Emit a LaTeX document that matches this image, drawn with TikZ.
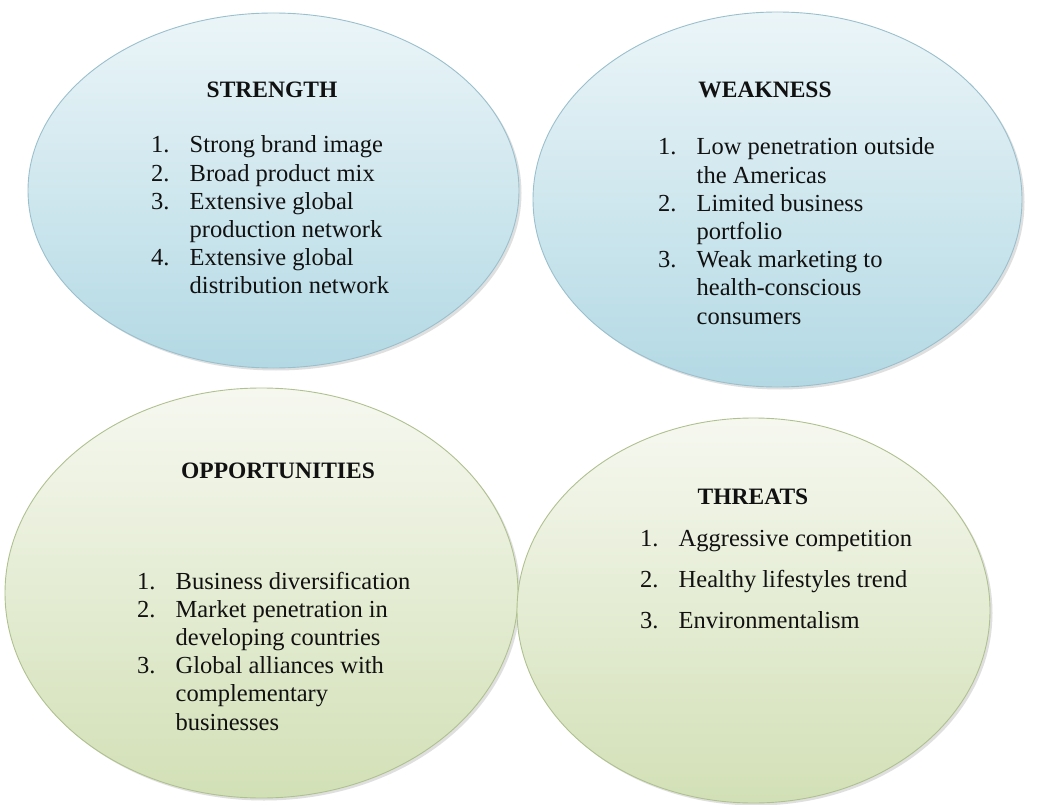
\documentclass[tikz,border=0pt]{standalone}
\usepackage{fontspec}
\setmainfont{Liberation Serif}
\usetikzlibrary{shapes.geometric,shadows}

\definecolor{bluetop}{HTML}{EBF5F8}
\definecolor{bluebot}{HTML}{B3D9E4}
\definecolor{blueedge}{HTML}{9BC0CD}
\definecolor{greentop}{HTML}{F6F8F0}
\definecolor{greenbot}{HTML}{D2E0B6}
\definecolor{greenedge}{HTML}{B0C190}
\definecolor{inktext}{HTML}{111111}

\newcommand{\swotnum}[1]{\makebox[38.5pt][l]{#1}}

\tikzset{
  quadrant/.style={ellipse, inner sep=0pt, line width=0.9pt,
    drop shadow={opacity=0.25, shadow xshift=2.5pt, shadow yshift=-2.5pt}},
  bluequad/.style={quadrant, draw=blueedge, top color=bluetop, bottom color=bluebot},
  greenquad/.style={quadrant, draw=greenedge, top color=greentop, bottom color=greenbot},
  heading/.style={anchor=base, inner sep=0pt, text=inktext,
    font=\fontsize{23.5}{28}\selectfont\bfseries},
  itemlist/.style={anchor=base west, inner sep=0pt, text=inktext,
    font=\fontsize{24.5}{28.2}\selectfont}
}

\begin{document}
\begin{tikzpicture}[x=1pt,y=-1pt]
  \useasboundingbox[fill=white] (0,0) rectangle (1037,805);

  % the four quadrants
  \node[bluequad, minimum width=491pt, minimum height=355pt] (strength) at (273.5,190.5) {};
  \node[bluequad, minimum width=489pt, minimum height=375pt] (weakness) at (777.5,199.5) {};
  \node[greenquad, minimum width=513pt, minimum height=410pt] (opportunities) at (261.5,593) {};
  \node[greenquad, minimum width=473pt, minimum height=385pt] (threats) at (753.5,610.5) {};

  % strength
  \node[heading] (strengthTitle) at (272,98) {STRENGTH};
  \node[itemlist] (strengthList) at (151,153) {\begin{tabular}[t]{@{}l@{}}
    \swotnum{1.}Strong brand image\\
    \swotnum{2.}Broad product mix\\
    \swotnum{3.}Extensive global\\
    \swotnum{}production network\\
    \swotnum{4.}Extensive global\\
    \swotnum{}distribution network
  \end{tabular}};

  % weakness
  \node[heading] (weaknessTitle) at (765,98) {WEAKNESS};
  \node[itemlist] (weaknessList) at (658,155) {\begin{tabular}[t]{@{}l@{}}
    \swotnum{1.}Low penetration outside\\
    \swotnum{}the Americas\\
    \swotnum{2.}Limited business\\
    \swotnum{}portfolio\\
    \swotnum{3.}Weak marketing to\\
    \swotnum{}health-conscious\\
    \swotnum{}consumers
  \end{tabular}};

  % opportunities
  \node[heading] (opportunitiesTitle) at (278,478) {OPPORTUNITIES};
  \node[itemlist] (opportunitiesList) at (137,589) {\begin{tabular}[t]{@{}l@{}}
    \swotnum{1.}Business diversification\\
    \swotnum{2.}Market penetration in\\
    \swotnum{}developing countries\\
    \swotnum{3.}Global alliances with\\
    \swotnum{}complementary\\
    \swotnum{}businesses
  \end{tabular}};

  % threats
  \node[heading] (threatsTitle) at (753,504) {THREATS};
  \node[itemlist] (threatsList) at (640,546) {\renewcommand{\arraystretch}{1.46}\begin{tabular}[t]{@{}l@{}}
    \swotnum{1.}Aggressive competition\\
    \swotnum{2.}Healthy lifestyles trend\\
    \swotnum{3.}Environmentalism
  \end{tabular}};
\end{tikzpicture}
\end{document}
